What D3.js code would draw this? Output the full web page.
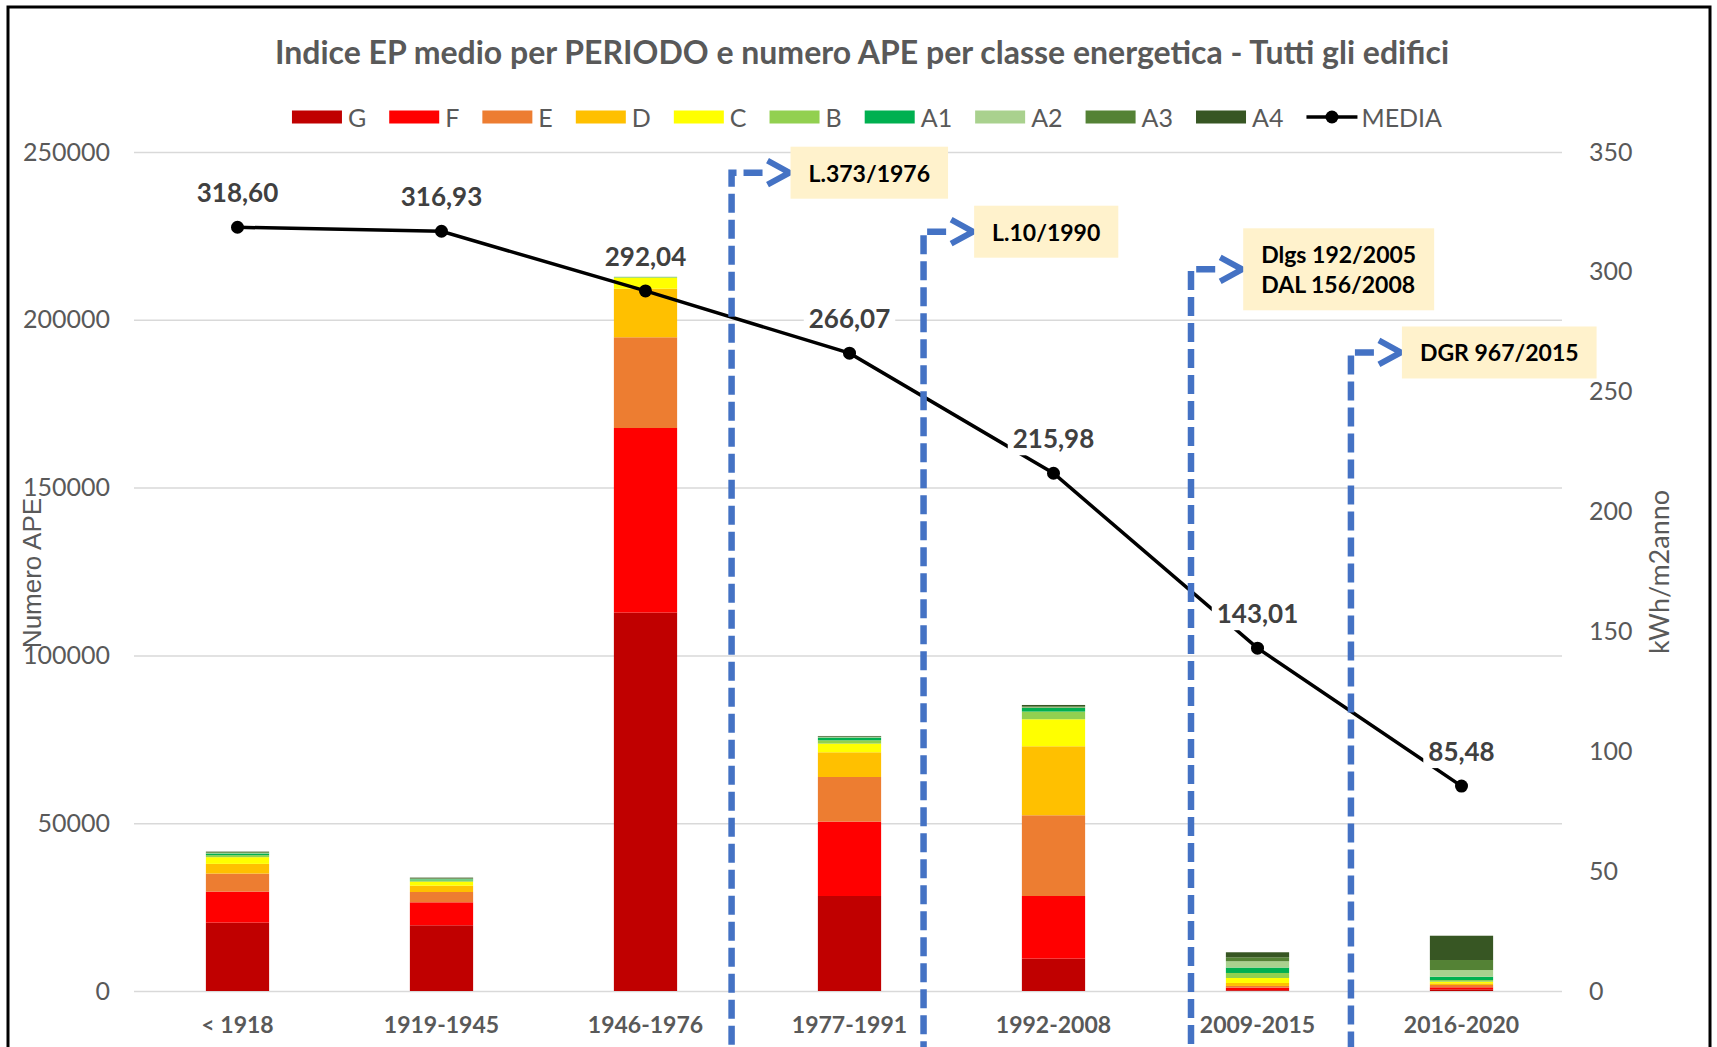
<!DOCTYPE html>
<html>
<head>
<meta charset="utf-8">
<script src="https://cdn.jsdelivr.net/npm/d3@7"></script>
<style>
  body { margin: 0; background: #fff; }
  text { font-family: Lato, "Open Sans", sans-serif; }
</style>
</head>
<body>
<svg id="chart" width="1717" height="1047"></svg>
<script>
// periods on the x axis
const periods = ['< 1918', '1919-1945', '1946-1976', '1977-1991', '1992-2008', '2009-2015', '2016-2020'];
// energy classes, bottom to top of each stack
const classes = ['G', 'F', 'E', 'D', 'C', 'B', 'A1', 'A2', 'A3', 'A4'];
const classColors = ['#C00000', '#FF0000', '#ED7D31', '#FFC000', '#FFFF00', '#92D050', '#00B050', '#A9D18E', '#548235', '#375623'];

// numero APE per classe, one value per period
const apeG  = [20380, 19580, 112750, 28310, 9650, 240, 500];
const apeF  = [9240, 6850, 55010, 22170, 18660, 750, 600];
const apeE  = [5370, 3070, 27030, 13290, 24050, 510, 690];
const apeD  = [2890, 1880, 14480, 7360, 20560, 890, 500];
const apeC  = [2000, 1190, 3280, 2590, 8050, 1490, 480];
const apeB  = [600, 400, 150, 990, 2290, 1490, 500];
const apeA1 = [500, 300, 50, 800, 1070, 1610, 980];
const apeA2 = [200, 150, 30, 150, 180, 1880, 2000];
const apeA3 = [250, 180, 20, 150, 330, 1190, 2980];
const apeA4 = [100, 180, 10, 180, 390, 1490, 7240];

// indice EP medio (kWh/m2anno)
const media = [318.60, 316.93, 292.04, 266.07, 215.98, 143.01, 85.48];
const mediaLabels = ['318,60', '316,93', '292,04', '266,07', '215,98', '143,01', '85,48'];

const leftTicks = [0, 50000, 100000, 150000, 200000, 250000];
const rightTicks = [0, 50, 100, 150, 200, 250, 300, 350];

const title = 'Indice EP medio per PERIODO e numero APE per classe energetica - Tutti gli edifici';

// law references: vertical dashed line at period index, arrow to a box
const laws = [
  { text: ['L.373/1976'], at: 2.422, tip: 2.706, level: 243830 },
  { text: ['L.10/1990'], at: 3.363, tip: 3.606, level: 226250 },
  { text: ['Dlgs 192/2005', 'DAL 156/2008'], at: 4.674, tip: 4.925, level: 215050 },
  { text: ['DGR 967/2015'], at: 5.458, tip: 5.703, level: 190260 }
];

const series = [apeG, apeF, apeE, apeD, apeC, apeB, apeA1, apeA2, apeA3, apeA4];
const rows = periods.map((p, i) => {
  const r = { period: p };
  classes.forEach((c, k) => { r[c] = series[k][i]; });
  return r;
});

const svg = d3.select('#chart');
const plot = { left: 134, right: 1562, top: 152, bottom: 991 };
const grey = '#595959';

const x = d3.scaleBand().domain(periods).range([plot.left + 1.5, plot.right + 1.5])
  .paddingInner(0.69).paddingOuter(0.345);
const y = d3.scaleLinear().domain([0, 250000]).range([plot.bottom, plot.top]);
const y2 = d3.scaleLinear().domain([0, 350]).range([plot.bottom, plot.top]);
const color = d3.scaleOrdinal().domain(classes).range(classColors);
const bw = x.bandwidth();
const xi = d3.scaleLinear().domain([0, periods.length - 1])
  .range([x(periods[0]) + bw / 2, x(periods[periods.length - 1]) + bw / 2]);

// frame
svg.append('rect')
  .attr('x', 8).attr('y', 7).attr('width', 1702).attr('height', 1100)
  .attr('fill', 'none').attr('stroke', '#000').attr('stroke-width', 3);

// title
svg.append('text')
  .attr('x', 862).attr('y', 51)
  .attr('text-anchor', 'middle').attr('dominant-baseline', 'central')
  .style('font-size', '32px').style('font-weight', 'bold').attr('fill', grey)
  .text(title);

// left axis + gridlines
const gLeft = svg.append('g')
  .attr('transform', 'translate(' + plot.left + ',0)')
  .call(d3.axisLeft(y).tickValues(leftTicks).tickFormat(d3.format('d'))
    .tickSize(-(plot.right - plot.left)).tickPadding(24));
gLeft.select('.domain').remove();
gLeft.selectAll('line').attr('stroke', '#d9d9d9').attr('stroke-width', 1.5);
gLeft.selectAll('text').style('font-size', '25px').attr('fill', grey).style('font-family', 'Lato');

// right axis
const gRight = svg.append('g')
  .attr('transform', 'translate(' + plot.right + ',0)')
  .call(d3.axisRight(y2).tickValues(rightTicks).tickSize(0).tickPadding(27));
gRight.select('.domain').remove();
gRight.selectAll('text').style('font-size', '25px').attr('fill', grey).style('font-family', 'Lato');

// bottom axis
const gBottom = svg.append('g')
  .attr('transform', 'translate(0,' + plot.bottom + ')')
  .call(d3.axisBottom(x).tickSize(0));
gBottom.select('.domain').remove();
gBottom.selectAll('text')
  .attr('y', 34).attr('dy', '0.35em')
  .style('font-size', '23px').style('font-weight', 'bold').attr('fill', grey).style('font-family', 'Lato');

// axis titles
svg.append('text')
  .attr('transform', 'translate(32,573) rotate(-90)')
  .attr('text-anchor', 'middle').attr('dominant-baseline', 'central')
  .style('font-family', '"Liberation Sans", Arial, sans-serif').style('font-size', '26px')
  .attr('fill', grey).text('Numero APE');

svg.append('text')
  .attr('transform', 'translate(1658,572) rotate(-90)')
  .attr('text-anchor', 'middle').attr('dominant-baseline', 'central')
  .style('font-size', '27px').attr('fill', grey).text('kWh/m2anno');

// stacked bars
const stacked = d3.stack().keys(classes)(rows);
svg.append('g').selectAll('g')
  .data(stacked)
  .join('g')
  .attr('fill', d => color(d.key))
  .selectAll('rect')
  .data(d => d)
  .join('rect')
  .attr('x', d => x(d.data.period))
  .attr('width', bw)
  .attr('y', d => y(d[1]))
  .attr('height', d => y(d[0]) - y(d[1]));

// MEDIA line
const pts = periods.map((p, i) => ({ p: p, v: media[i], label: mediaLabels[i] }));
const line = d3.line()
  .x(d => x(d.p) + bw / 2)
  .y(d => y2(d.v));

svg.append('path')
  .datum(pts)
  .attr('fill', 'none').attr('stroke', '#000').attr('stroke-width', 3.5)
  .attr('d', line);

svg.append('g').selectAll('circle')
  .data(pts)
  .join('circle')
  .attr('cx', d => x(d.p) + bw / 2)
  .attr('cy', d => y2(d.v))
  .attr('r', 6.5)
  .attr('fill', '#000');

// value labels with white background
const lab = svg.append('g').selectAll('g')
  .data(pts)
  .join('g')
  .attr('transform', d => 'translate(' + (x(d.p) + bw / 2) + ',' + (y2(d.v) - 35) + ')');
lab.append('rect').attr('fill', '#fff');
lab.append('text')
  .attr('text-anchor', 'middle').attr('dominant-baseline', 'central')
  .style('font-size', '26px').style('font-weight', 'bold').attr('fill', '#404040')
  .text(d => d.label);
lab.each(function () {
  const g = d3.select(this);
  const b = g.select('text').node().getBBox();
  g.select('rect')
    .attr('x', b.x - 5).attr('y', -17).attr('width', b.width + 10).attr('height', 34);
});

// legend
const legend = svg.append('g');
let lx = 0;
classes.forEach((c, k) => {
  const it = legend.append('g').attr('transform', 'translate(' + lx + ',0)');
  it.append('rect').attr('x', 0).attr('y', -6.5).attr('width', 50).attr('height', 13).attr('fill', color(c));
  const t = it.append('text').attr('x', 56).attr('dominant-baseline', 'central')
    .style('font-size', '25px').attr('fill', grey).text(c);
  lx += 56 + t.node().getComputedTextLength() + 23;
});
const itM = legend.append('g').attr('transform', 'translate(' + lx + ',0)');
itM.append('line').attr('x1', 0).attr('x2', 51).attr('stroke', '#000').attr('stroke-width', 3.5);
itM.append('circle').attr('cx', 25.5).attr('r', 6.5).attr('fill', '#000');
const tm = itM.append('text').attr('x', 55).attr('dominant-baseline', 'central')
  .style('font-size', '25px').attr('fill', grey).text('MEDIA');
const legendW = lx + 55 + tm.node().getComputedTextLength();
legend.attr('transform', 'translate(' + (867 - legendW / 2) + ',117)');

// law annotations
const blue = '#4472C4';
laws.forEach(a => {
  const vx = xi(a.at), tx = xi(a.tip), cy = y(a.level);
  svg.append('path')
    .attr('d', 'M' + (tx - 27) + ',' + cy + 'H' + vx + 'V1060')
    .attr('fill', 'none').attr('stroke', blue).attr('stroke-width', 6.5)
    .attr('stroke-dasharray', '19,7');
  svg.append('path')
    .attr('d', 'M' + (tx - 22) + ',' + (cy - 12) + 'L' + tx + ',' + cy + 'L' + (tx - 22) + ',' + (cy + 12))
    .attr('fill', 'none').attr('stroke', blue).attr('stroke-width', 6)
    .attr('stroke-linejoin', 'miter');
  const box = svg.append('g');
  const r = box.append('rect').attr('fill', '#FFF2CC');
  const n = a.text.length;
  const t = box.append('text')
    .style('font-size', '23px').style('font-weight', 'bold').attr('fill', '#000');
  a.text.forEach((s, j) => {
    t.append('tspan').attr('x', tx + 19).attr('y', cy + (j - (n - 1) / 2) * 30)
      .attr('dominant-baseline', 'central').text(s);
  });
  const b = t.node().getBBox();
  const h = n * 30 + 22;
  r.attr('x', tx + 1).attr('y', cy - h / 2).attr('width', b.width + 36).attr('height', h);
});
</script>
</body>
</html>
